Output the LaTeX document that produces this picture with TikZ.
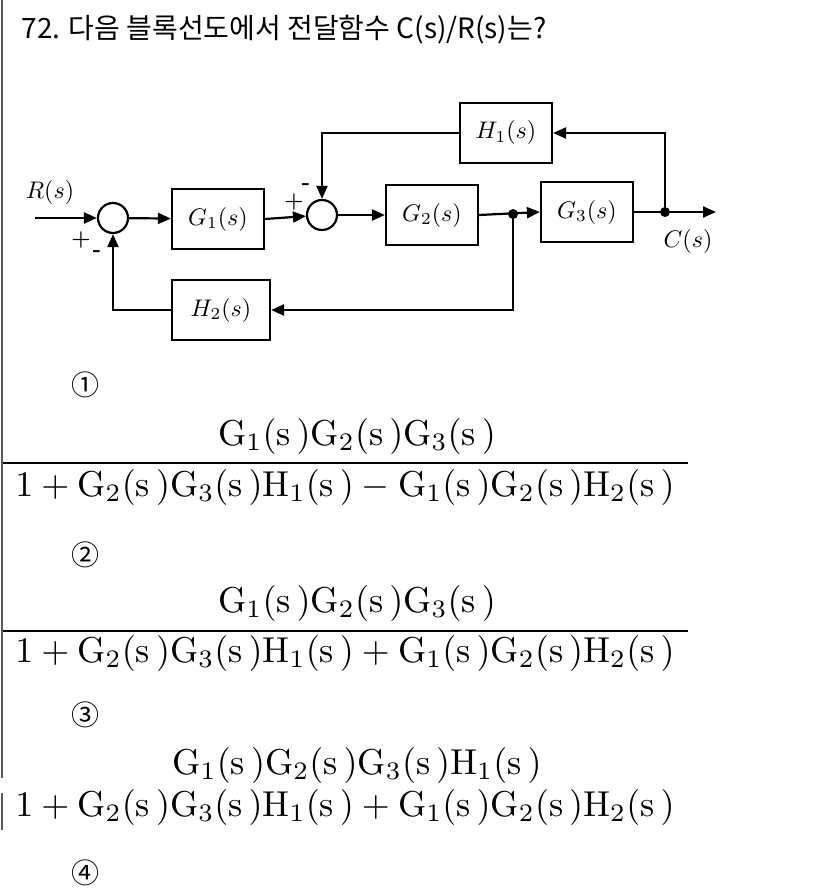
\documentclass[tikz,border=0pt]{standalone}
\usepackage{graphicx}
\usepackage{fontspec}
\newfontfamily\kr{Noto Sans CJK KR}
\usetikzlibrary{arrows.meta}
\tikzset{
	blk/.style = {draw, line width=2.2pt, minimum width=92pt, minimum height=60pt},
	sumc/.style = {draw, line width=2.2pt, circle, minimum size=30pt, inner sep=0pt},
	sig/.style = {line width=2.2pt, -{Triangle[length=13pt, width=11pt]}},
	sgn/.style = {font=\fontsize{22}{22}\selectfont\bfseries},
	num/.style = {font=\kr\fontsize{28}{28}\selectfont}
}
\newcommand{\Gs}[1]{\mathrm{G}_{#1}(\mathrm{s}\,)}
\newcommand{\Hs}[1]{\mathrm{H}_{#1}(\mathrm{s}\,)}
\newcommand{\eqn}[1]{\scalebox{3.6}{$#1$}}
\newcommand{\lab}[1]{\scalebox{2.4}{$#1$}}
\begin{document}
\begin{tikzpicture}[x=1pt, y=-1pt]
					\useasboundingbox (0,0) rectangle (826,888);
					% ====== Frame and question ========
					\draw[line width=2pt, gray!70!black] (2,0) -- (2,778);
					\draw[line width=2pt, gray!70!black] (2,793) -- (2,830);
					\node[anchor=west, num] (Q) at (18,30) {72. 다음 블록선도에서 전달함수 C(s)/R(s)는?};
					% ====== Blocks ========
					\node[sumc] (S1) at (113,218) {};
					\node[sumc] (S2) at (322,215) {};
					\node[blk] (G1) at (218,219) {\lab{G_1(s)}};
					\node[blk] (G2) at (432,215) {\lab{G_2(s)}};
					\node[blk] (G3) at (587,212) {\lab{G_3(s)}};
					\node[blk] (H1) at (506,133) {\lab{H_1(s)}};
					\node[blk, minimum width=98pt] (H2) at (221,310) {\lab{H_2(s)}};
					\coordinate (In) at (35,218);
					\coordinate (B1) at (513,214);
					\coordinate (B2) at (665,212);
					\coordinate (Out) at (716,212);
					% ====== Signals ========
					\draw[sig] (In) -- (S1);
					\draw[sig] (S1) -- (G1);
					\draw[sig] (G1.east) -- (S2);
					\draw[sig] (S2) -- (G2);
					\draw[sig] (G2.east) -- (G3.west);
					\draw[sig] (G3.east) -- (Out);
					\draw[sig] (B2) |- (H1.east);
					\draw[sig] (H1.west) -| (S2.north);
					\draw[sig] (B1) |- (H2.east);
					\draw[sig] (H2.west) -| (S1.south);
					\foreach \p in {B1, B2} {\fill (\p) circle (5);}
					\node (R) at (50,192) {\lab{R(s)}};
					\node (C) at (688,241) {\lab{C(s)}};
					\node[sgn] at (81,240) {+};
					\node[sgn] at (97,254) {-};
					\node[sgn] at (294,202) {+};
					\node[sgn] at (306,187) {-};
					% ====== Choices ========
					\node[num] (c1) at (85,385) {①};
					\node[num] (c2) at (85,555) {②};
					\node[num] (c3) at (85,715) {③};
					\node[num] (c4) at (85,873) {④};
					\node (n1) at (357,436) {\eqn{\Gs1\Gs2\Gs3}};
					\node (d1) at (345,487) {\eqn{1+\Gs2\Gs3\Hs1-\Gs1\Gs2\Hs2}};
					\draw[line width=1.8pt] (3,463) -- (688,463);
					\node (n2) at (357,603) {\eqn{\Gs1\Gs2\Gs3}};
					\node (d2) at (345,653) {\eqn{1+\Gs2\Gs3\Hs1+\Gs1\Gs2\Hs2}};
					\draw[line width=1.8pt] (3,631) -- (688,631);
					\node (n3) at (357,765) {\eqn{\Gs1\Gs2\Gs3\Hs1}};
					\node (d3) at (345,807) {\eqn{1+\Gs2\Gs3\Hs1+\Gs1\Gs2\Hs2}};
				\end{tikzpicture}
\end{document}
